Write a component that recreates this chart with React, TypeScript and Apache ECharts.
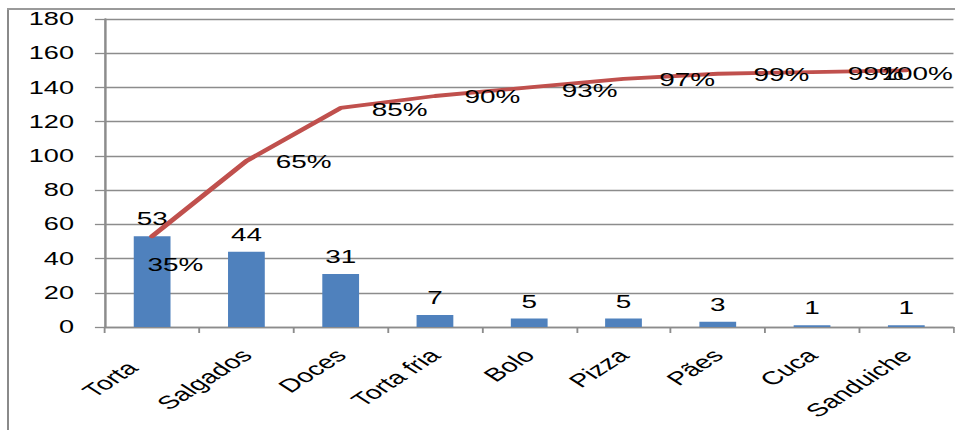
import React, { useEffect, useRef } from "react";
import * as echarts from "echarts";

// Products and quantities sold (Pareto order)
const categories = ["Torta", "Salgados", "Doces", "Torta fria", "Bolo", "Pizza", "Pães", "Cuca", "Sanduiche"];
const quantities = [53, 44, 31, 7, 5, 5, 3, 1, 1];
const yTicks = { min: 0, max: 180, interval: 20 };

// Running total for the Pareto curve
const cumulative = quantities.reduce<number[]>((acc, v, i) => {
  acc.push((i ? acc[i - 1] : 0) + v);
  return acc;
}, []);
const total = cumulative[cumulative.length - 1];

// Placement of the percentage labels next to each point of the curve
const pctLabelOffsets: [number, number][] = [
  [15, 29], [37, 1], [38, 2], [37, 1], [39, 3], [41, 1], [41, 1], [41, 2], [7, 4],
];

const W = 955;
const H = 430;
const SX = 1.55; // horizontal stretch of the whole figure
const FONT = "'Liberation Sans', Arial, sans-serif";

export default function App() {
  const ref = useRef<HTMLDivElement>(null);

  useEffect(() => {
    if (!ref.current) return;
    const innerW = W / SX;
    const chart = echarts.init(ref.current, null, { renderer: "svg", width: innerW, height: H });
    const gray = "#8c8c8c";
    chart.setOption({
      animation: false,
      textStyle: { fontFamily: FONT },
      grid: { left: 105 / SX, right: 1, top: 19, bottom: 103, containLabel: false },
      xAxis: {
        type: "category",
        data: categories,
        axisLine: { lineStyle: { color: gray, width: 1.4 } },
        axisTick: { show: true, length: 6, lineStyle: { color: gray, width: 1.2 } },
        axisLabel: {
          interval: 0,
          rotate: 45,
          margin: 25,
          fontSize: 18.5,
          color: "#000",
          fontFamily: FONT,
          formatter: (v: string, i: number) => (i === 0 ? `{a|${v}}` : v),
          rich: { a: { fontSize: 18.5, color: "#000", fontFamily: FONT, padding: [0, 18, 0, 0] } },
        },
        splitLine: { show: false },
      },
      yAxis: {
        type: "value",
        min: yTicks.min,
        max: yTicks.max,
        interval: yTicks.interval,
        axisLine: { show: true, lineStyle: { color: gray, width: 1.6 } },
        axisTick: { show: true, length: 6.5, lineStyle: { color: gray, width: 1.3 } },
        axisLabel: { margin: 20, fontSize: 17.5, color: "#000", fontFamily: FONT },
        splitLine: { show: true, lineStyle: { color: gray, width: 1.4 } },
      },
      series: [
        {
          type: "bar",
          data: quantities,
          barWidth: "39%",
          itemStyle: { color: "#4f81bd" },
          label: { show: true, position: "top", distance: 8, fontSize: 18, color: "#000", fontFamily: FONT },
        },
        {
          type: "line",
          data: cumulative.map((v, i) => ({
            value: v,
            label: { offset: pctLabelOffsets[i] },
          })),
          symbol: "circle",
          symbolSize: 2,
          lineStyle: { color: "#c0504d", width: 3.8, join: "round", cap: "round" },
          itemStyle: { color: "#c0504d" },
          label: {
            show: true,
            position: "inside",
            fontSize: 18,
            color: "#000",
            fontFamily: FONT,
            formatter: (p: any) => `${Math.round((p.value / total) * 100)}%`,
          },
          z: 3,
        },
      ],
    });
    return () => chart.dispose();
  }, []);

  return (
    <div style={{ position: "fixed", left: 0, top: 0, width: W, height: H, overflow: "hidden", background: "#fff" }}>
      <div
        ref={ref}
        style={{
          position: "absolute",
          left: 0,
          top: 0,
          width: W / SX,
          height: H,
          transform: `scaleX(${SX})`,
          transformOrigin: "0 0",
        }}
      />
      <div style={{ position: "absolute", left: 7, top: 8, width: 2, height: H, background: "#8a8a8a" }} />
      <div style={{ position: "absolute", left: 7, top: 8, width: W, height: 2, background: "#9a9a9a" }} />
    </div>
  );
}
